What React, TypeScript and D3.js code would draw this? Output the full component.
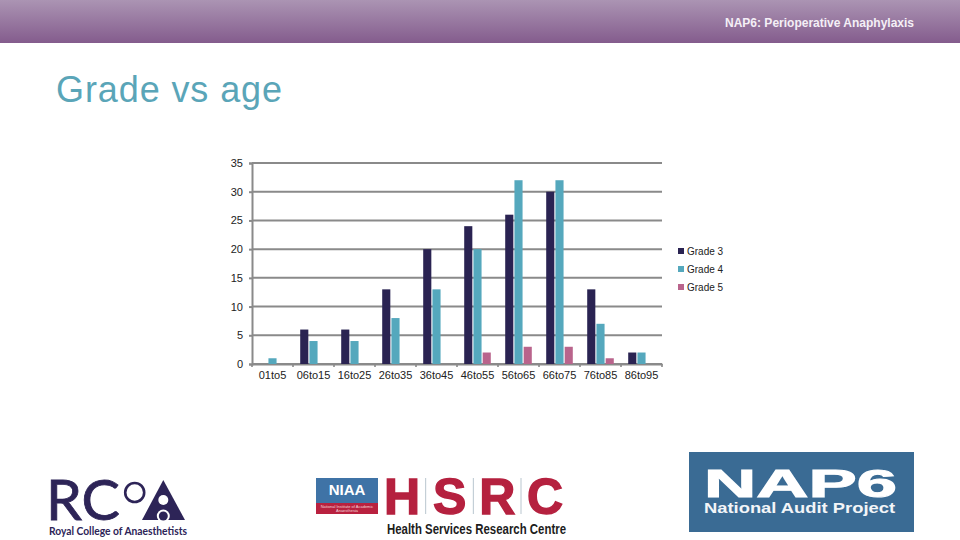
import React, { useRef, useEffect } from 'react';
import * as d3 from 'd3';

// Chart data
const ageGroups = ['01to5', '06to15', '16to25', '26to35', '36to45', '46to55', '56to65', '66to75', '76to85', '86to95'];
const seriesNames = ['Grade 3', 'Grade 4', 'Grade 5'];
const grade3 = [0, 6, 6, 13, 20, 24, 26, 30, 13, 2];
const grade4 = [1, 4, 4, 8, 13, 20, 32, 32, 7, 2];
const grade5 = [0, 0, 0, 0, 0, 2, 3, 3, 1, 0];
const seriesColors = ['#2a2352', '#55a8bd', '#b9648c'];
const yTicks = [0, 5, 10, 15, 20, 25, 30, 35];

const width = 960;
const height = 540;
const plot = { left: 252, right: 662, top: 163, bottom: 364 };
const sans = '"Liberation Sans", Arial, sans-serif';

const App = () => {
  const chartRef = useRef<SVGSVGElement | null>(null);

  useEffect(() => {
    if (!chartRef.current) return;
    const svg = d3.select(chartRef.current);
    svg.selectAll('*').remove();

    const xScale = d3.scaleBand<string>().domain(ageGroups).range([plot.left, plot.right]);
    const groupScale = d3
      .scaleBand<string>()
      .domain(seriesNames)
      .range([0, xScale.bandwidth()])
      .paddingInner(0.12)
      .paddingOuter(0.78);
    const yScale = d3.scaleLinear().domain([0, 35]).range([plot.bottom, plot.top]);

    // Header band
    const gradient = svg
      .append('defs')
      .append('linearGradient')
      .attr('id', 'header-gradient')
      .attr('x1', '0%')
      .attr('y1', '0%')
      .attr('x2', '0%')
      .attr('y2', '100%');
    gradient.append('stop').attr('offset', '0%').attr('stop-color', '#ab94b3');
    gradient.append('stop').attr('offset', '100%').attr('stop-color', '#845c8d');

    svg.append('rect').attr('width', width).attr('height', 43).attr('fill', 'url(#header-gradient)');
    svg
      .append('text')
      .attr('x', 914)
      .attr('y', 27)
      .attr('text-anchor', 'end')
      .attr('font-family', sans)
      .attr('font-size', 12)
      .attr('font-weight', 700)
      .attr('fill', '#f4eff6')
      .text('NAP6: Perioperative Anaphylaxis');

    // Title
    svg
      .append('text')
      .attr('x', 56)
      .attr('y', 102)
      .attr('font-family', sans)
      .attr('font-size', 36)
      .attr('letter-spacing', 0.9)
      .attr('fill', '#5aa5b8')
      .text('Grade vs age');

    // Gridlines
    svg
      .append('g')
      .selectAll('line')
      .data(yTicks)
      .enter()
      .append('line')
      .attr('x1', plot.left)
      .attr('x2', plot.right)
      .attr('y1', (d) => yScale(d))
      .attr('y2', (d) => yScale(d))
      .attr('stroke', '#8a8a8a')
      .attr('stroke-width', 2);

    // Axes
    const yAxis = d3.axisLeft(yScale).tickValues(yTicks).tickSize(3).tickPadding(6);
    const yGroup = svg.append('g').attr('transform', `translate(${plot.left},0)`).call(yAxis);
    yGroup.selectAll('path, line').attr('stroke', '#8a8a8a').attr('stroke-width', 2);

    const xAxis = d3.axisBottom(xScale).tickSize(0).tickPadding(7);
    const xGroup = svg.append('g').attr('transform', `translate(0,${plot.bottom})`).call(xAxis);
    xGroup.select('.domain').attr('stroke', '#8a8a8a').attr('stroke-width', 2);

    // Tick marks between the categories, plus one closing the axis
    const edgeTicks = [...ageGroups.map((d) => xScale(d) ?? 0), plot.right];
    svg
      .append('g')
      .selectAll('line')
      .data(edgeTicks)
      .enter()
      .append('line')
      .attr('x1', (d) => d)
      .attr('x2', (d) => d)
      .attr('y1', plot.bottom)
      .attr('y2', plot.bottom + 3)
      .attr('stroke', '#8a8a8a')
      .attr('stroke-width', 1.6);

    svg
      .selectAll('.tick text')
      .attr('font-family', sans)
      .attr('font-size', 11)
      .attr('fill', '#222222');

    // Bars
    const values = [grade3, grade4, grade5];
    seriesNames.forEach((name, s) => {
      svg
        .append('g')
        .selectAll('rect')
        .data(values[s])
        .enter()
        .append('rect')
        .attr('x', (_, i) => (xScale(ageGroups[i]) ?? 0) + (groupScale(name) ?? 0))
        .attr('width', groupScale.bandwidth())
        .attr('y', (d) => yScale(d))
        .attr('height', (d) => plot.bottom - yScale(d))
        .attr('fill', seriesColors[s]);
    });

    // Legend
    const legendY = d3.scalePoint<string>().domain(seriesNames).range([251, 287]);
    const legend = svg
      .append('g')
      .selectAll('g')
      .data(seriesNames)
      .enter()
      .append('g')
      .attr('transform', (d) => `translate(678,${legendY(d)})`);
    legend
      .append('rect')
      .attr('y', -3)
      .attr('width', 6)
      .attr('height', 6)
      .attr('fill', (_, i) => seriesColors[i]);
    legend
      .append('text')
      .attr('x', 9)
      .attr('y', 4)
      .attr('font-family', sans)
      .attr('font-size', 10)
      .attr('fill', '#222222')
      .text((d) => d);

    // RCoA logo
    const rcoa = svg.append('g').attr('fill', '#2d2457');
    rcoa
      .append('text')
      .attr('x', 46)
      .attr('y', 520)
      .attr('font-family', 'Lato, sans-serif')
      .attr('font-size', 56)
      .attr('textLength', 74)
      .attr('lengthAdjust', 'spacingAndGlyphs')
      .attr('stroke', '#2d2457')
      .attr('stroke-width', 0.8)
      .text('RC');
    rcoa
      .append('circle')
      .attr('cx', 134.7)
      .attr('cy', 492.5)
      .attr('r', 9.5)
      .attr('fill', 'none')
      .attr('stroke', '#2d2457')
      .attr('stroke-width', 2.6);
    rcoa.append('path').attr('d', 'M163.3 480L185 520H142Z');
    rcoa.append('circle').attr('cx', 163.3).attr('cy', 500).attr('r', 5).attr('fill', '#ffffff');
    rcoa.append('circle').attr('cx', 163.3).attr('cy', 516).attr('r', 6.5).attr('fill', '#ffffff');
    rcoa.append('circle').attr('cx', 163.3).attr('cy', 516).attr('r', 4.5);
    rcoa
      .append('text')
      .attr('x', 49)
      .attr('y', 535)
      .attr('font-family', 'Lato, sans-serif')
      .attr('font-size', 10.5)
      .attr('font-weight', 700)
      .attr('textLength', 138)
      .attr('lengthAdjust', 'spacingAndGlyphs')
      .text('Royal College of Anaesthetists');

    // NIAA / HSRC logo
    svg.append('rect').attr('x', 316).attr('y', 478).attr('width', 62).attr('height', 25).attr('fill', '#3f73a6');
    svg.append('rect').attr('x', 316).attr('y', 503).attr('width', 62).attr('height', 11).attr('fill', '#b9213f');
    svg
      .append('text')
      .attr('x', 347)
      .attr('y', 495)
      .attr('text-anchor', 'middle')
      .attr('font-family', sans)
      .attr('font-size', 15)
      .attr('font-weight', 700)
      .attr('fill', '#ffffff')
      .text('NIAA');
    const niaaSub = ['National Institute of Academic', 'Anaesthesia'];
    niaaSub.forEach((line, i) => {
      svg
        .append('text')
        .attr('x', 347)
        .attr('y', 507.5 + i * 4.5)
        .attr('text-anchor', 'middle')
        .attr('font-family', sans)
        .attr('font-size', 4)
        .attr('fill', '#f3d5da')
        .text(line);
    });
    const hsrcLetters = ['H', 'S', 'R', 'C'];
    const hsrcX = d3.scalePoint<string>().domain(hsrcLetters).range([402, 545]);
    svg
      .append('g')
      .selectAll('text')
      .data(hsrcLetters)
      .enter()
      .append('text')
      .attr('x', (d) => hsrcX(d) ?? 0)
      .attr('y', 514)
      .attr('text-anchor', 'middle')
      .attr('font-family', sans)
      .attr('font-size', 50)
      .attr('font-weight', 700)
      .attr('fill', '#b5213f')
      .attr('stroke', '#b5213f')
      .attr('stroke-width', 1.4)
      .text((d) => d);
    svg
      .append('g')
      .selectAll('line')
      .data(hsrcLetters.slice(1))
      .enter()
      .append('line')
      .attr('x1', (d) => (hsrcX(d) ?? 0) - 24)
      .attr('x2', (d) => (hsrcX(d) ?? 0) - 24)
      .attr('y1', 478)
      .attr('y2', 514)
      .attr('stroke', '#b9c6cf')
      .attr('stroke-width', 1);
    svg
      .append('text')
      .attr('x', 387)
      .attr('y', 534)
      .attr('font-family', sans)
      .attr('font-size', 14.5)
      .attr('font-weight', 700)
      .attr('textLength', 179)
      .attr('lengthAdjust', 'spacingAndGlyphs')
      .attr('fill', '#1c1c1c')
      .text('Health Services Research Centre');

    // NAP6 logo
    svg.append('rect').attr('x', 689).attr('y', 452).attr('width', 225).attr('height', 80).attr('fill', '#3a6b94');
    svg
      .append('text')
      .attr('x', 704)
      .attr('y', 497)
      .attr('font-family', sans)
      .attr('font-size', 39)
      .attr('font-weight', 700)
      .attr('textLength', 193)
      .attr('lengthAdjust', 'spacingAndGlyphs')
      .attr('stroke', '#ffffff')
      .attr('stroke-width', 1)
      .attr('fill', '#ffffff')
      .text('NAP6');
    svg
      .append('text')
      .attr('x', 704)
      .attr('y', 513)
      .attr('font-family', sans)
      .attr('font-size', 14.5)
      .attr('font-weight', 700)
      .attr('textLength', 191)
      .attr('lengthAdjust', 'spacingAndGlyphs')
      .attr('fill', '#f2f5f8')
      .text('National Audit Project');
  }, []);

  return (
    <svg
      ref={chartRef}
      width={width}
      height={height}
      style={{ position: 'absolute', left: 0, top: 0, background: '#ffffff' }}
    />
  );
};

export default App;
